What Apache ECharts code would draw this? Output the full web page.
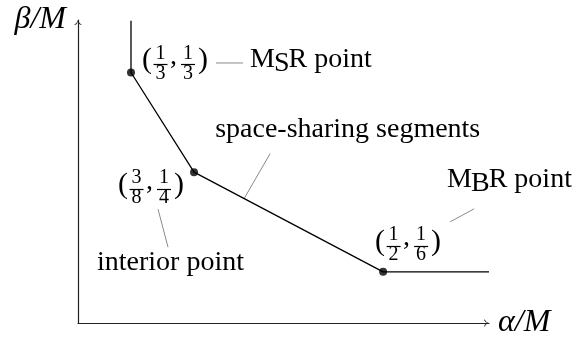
<!DOCTYPE html>
<html>
<head>
<meta charset="utf-8">
<script src="https://cdn.jsdelivr.net/npm/echarts@6/dist/echarts.min.js"></script>
<style>
  html, body { margin: 0; padding: 0; background: #fff; }
  #main { width: 575px; height: 339px; }
</style>
</head>
<body>
<div id="main"></div>
<script>
// trade-off curve: vertical piece, two space-sharing segments, horizontal piece
const curveAlpha = [1 / 3, 1 / 3, 3 / 8, 1 / 2, 0.57]
const curveBeta = [0.3765, 1 / 3, 1 / 4, 1 / 6, 1 / 6]
// corner points and their fraction labels
const cornerAlpha = [1 / 3, 3 / 8, 1 / 2]
const cornerBeta = [1 / 3, 1 / 4, 1 / 6]
const cornerFracs = [[[1, 3], [1, 3]], [[3, 8], [1, 4]], [[1, 2], [1, 6]]]
const pointNames = ['M_SR point', 'interior point', 'M_BR point']
const segmentName = 'space-sharing segments'
const axisNames = ['α/M', 'β/M']

const FONT = 'Liberation Serif'
const chart = echarts.init(document.getElementById('main'))

// open "to" arrow head, pointing up
const arrowPath = 'path://M8,0 Q9.5,6 16,10 L14.6,10.6 Q9,8 8,3 Q7,8 1.4,10.6 L0,10 Q6.5,6 8,0 Z'

const axisBase = {
  type: 'value',
  axisLine: {
    show: true,
    onZero: false,
    symbol: ['none', arrowPath],
    symbolSize: [8, 5],
    symbolOffset: [0, -2.5],
    lineStyle: { color: '#222', width: 1.2 }
  },
  axisTick: { show: false },
  axisLabel: { show: false },
  splitLine: { show: false },
  nameLocation: 'end'
}

chart.setOption({
  animation: false,
  grid: { left: 78, right: 86, top: 20, bottom: 11 },
  xAxis: Object.assign({}, axisBase, {
    min: 0.2983,
    max: 0.57,
    name: axisNames[0],
    nameGap: 9,
    nameTextStyle: { fontFamily: FONT, fontStyle: 'italic', fontSize: 32, color: '#000', align: 'left', verticalAlign: 'middle' }
  }),
  yAxis: Object.assign({}, axisBase, {
    min: 0.1239,
    max: 0.3772,
    name: axisNames[1],
    nameGap: 0,
    nameTextStyle: { fontFamily: FONT, fontStyle: 'italic', fontSize: 32, color: '#000', align: 'right', verticalAlign: 'middle', padding: [0, 12, 0, 0] }
  }),
  series: [
    {
      type: 'line',
      data: curveAlpha.map((a, i) => [a, curveBeta[i]]),
      symbol: 'none',
      silent: true,
      lineStyle: { color: '#000', width: 1.3 }
    },
    {
      type: 'scatter',
      data: cornerAlpha.map((a, i) => [a, cornerBeta[i]]),
      symbolSize: 8,
      silent: true,
      itemStyle: { color: '#000' }
    }
  ]
})

const measureCtx = document.createElement('canvas').getContext('2d')
function textWidth (s, size) {
  measureCtx.font = size + 'px ' + FONT
  return measureCtx.measureText(s).width
}

function txt (x, y, s, size, align) {
  return {
    type: 'text', x: x, y: y, silent: true,
    style: { text: s, fontFamily: FONT, fontSize: size, fill: '#000', align: align || 'left', verticalAlign: 'middle' }
  }
}

function leader (x1, y1, x2, y2) {
  return {
    type: 'line', silent: true,
    shape: { x1: x1, y1: y1, x2: x2, y2: y2 },
    style: { stroke: '#8a8a8a', lineWidth: 1 }
  }
}

// "M_SR point" -> M, lowered S, R point (y = middle of M)
function nameText (x, y, name) {
  const m = name.match(/^(.)_(.)(.*)$/)
  if (!m) return [txt(x, y, name, 28)]
  const w1 = textWidth(m[1], 28)
  const w2 = textWidth(m[2], 28)
  return [
    txt(x, y, m[1], 28),
    txt(x + w1 - 1, y + 4, m[2], 28),
    txt(x + w1 + w2 - 2, y, m[3], 28)
  ]
}

// ( a/b , c/d ) with x0 = left of "(", y0 = fraction bar
function fracLabel (x0, y0, pair) {
  const out = [txt(x0, y0 - 4, '(', 30)]
  const bar = Math.round(y0) + 0.5;
  [[pair[0], 18.5], [pair[1], 46]].forEach(function (p) {
    const f = p[0]
    const cx = x0 + p[1]
    out.push(txt(cx, y0 - 11, String(f[0]), 20, 'center'))
    out.push(txt(cx, y0 + 9, String(f[1]), 20, 'center'))
    out.push({
      type: 'line', silent: true,
      shape: { x1: cx - 7, y1: bar, x2: cx + 7, y2: bar },
      style: { stroke: '#000', lineWidth: 1.2 }
    })
  })
  out.push(txt(x0 + 28, y0 - 8, ',', 28))
  out.push(txt(x0 + 56, y0 - 4, ')', 30))
  return out
}

const px = cornerAlpha.map((a, i) => chart.convertToPixel({ xAxisIndex: 0, yAxisIndex: 0 }, [a, cornerBeta[i]]))
const p1 = px[0]
const p2 = px[1]
const p3 = px[2]
// foot of the segment leader on the second segment
const t = 0.265
const foot = [p2[0] + t * (p3[0] - p2[0]), p2[1] + t * (p3[1] - p2[1])]

let g = []
g = g.concat(fracLabel(p1[0] + 11, p1[1] - 8, cornerFracs[0]))
g = g.concat(fracLabel(p2[0] - 76, p2[1] + 17, cornerFracs[1]))
g = g.concat(fracLabel(p3[0] - 8, p3[1] - 26, cornerFracs[2]))

g.push(leader(p1[0] + 85, p1[1] - 9.5, p1[0] + 112, p1[1] - 9.5))
g = g.concat(nameText(p1[0] + 119, p1[1] - 12.5, pointNames[0]))

g.push(leader(p2[0] - 36, p2[1] + 37, p2[0] - 26, p2[1] + 75))
g.push(txt(p2[0] - 97, p2[1] + 90.5, pointNames[1], 28))

g.push(leader(p3[0] + 67, p3[1] - 50, p3[0] + 91, p3[1] - 63))
g = g.concat(nameText(p3[0] + 64, p3[1] - 92.5, pointNames[2]))

g.push(leader(foot[0], foot[1], foot[0] + 26, foot[1] - 45))
g.push(txt(foot[0] - 29, foot[1] - 68.5, segmentName, 28))

chart.setOption({ graphic: g })
</script>
</body>
</html>
